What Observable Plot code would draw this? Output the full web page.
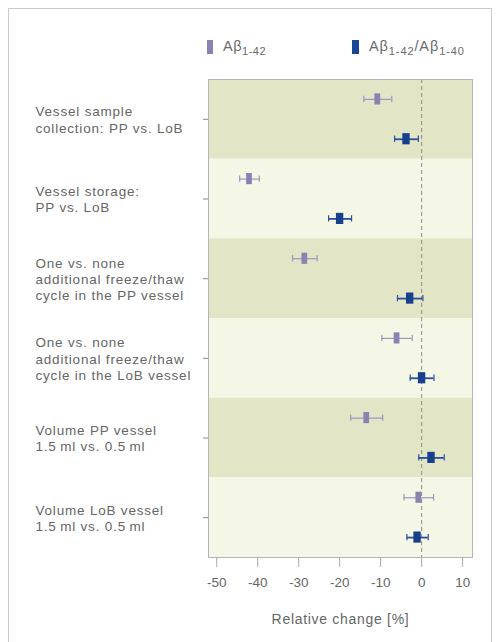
<!DOCTYPE html>
<html>
<head>
<meta charset="utf-8">
<script src="https://cdn.jsdelivr.net/npm/d3@7"></script>
<script src="https://cdn.jsdelivr.net/npm/@observablehq/plot@0.6"></script>
<style>
  body { margin: 0; background: #fff; font-family: "Liberation Sans", Arial, sans-serif; }
  #frame { position: absolute; left: 8px; top: 8px; width: 482px; height: 660px; border: 1px solid #c9c9c9; border-bottom: none; pointer-events: none; }
  #legend { position: relative; height: 64px; width: 496px; color: #6a6a6a; font-size: 14.5px; letter-spacing: 0.5px; }
  .item { position: absolute; top: 38px; display: flex; align-items: flex-end; }
  .sw { display: inline-block; width: 6px; height: 14px; margin-right: 10px; }
  sub { font-size: 11px; vertical-align: -4px; line-height: 0; }
  #chart svg { display: block; }
  #chart g.cat-labels text { letter-spacing: 0.8px; }
  #chart g[aria-label="x-axis label"] text { letter-spacing: 0.7px; }
</style>
</head>
<body>
<div id="frame"></div>
<div id="legend">
  <div class="item" style="left:207px"><span class="sw" style="background:#8a83b2"></span><span>Aβ<sub>1-42</sub></span></div>
  <div class="item" style="left:352px"><span class="sw" style="background:#1a4696;width:7px"></span><span style="letter-spacing:0.9px">Aβ<sub>1-42</sub>/Aβ<sub>1-40</sub></span></div>
</div>
<div id="chart"></div>
<script>
const categories = [
  "Vessel sample\ncollection: PP vs. LoB",
  "Vessel storage:\nPP vs. LoB",
  "One vs. none\nadditional freeze/thaw\ncycle in the PP vessel",
  "One vs. none\nadditional freeze/thaw\ncycle in the LoB vessel",
  "Volume PP vessel\n1.5\u202Fml vs. 0.5\u202Fml",
  "Volume LoB vessel\n1.5\u202Fml vs. 0.5\u202Fml"
];
const abeta42 = [-10.7, -42.0, -28.5, -6.0, -13.4, -0.7];
const abeta42Err = [3.4, 2.4, 3.0, 3.7, 3.9, 3.6];
const ratio = [-3.7, -19.9, -2.8, 0.1, 2.4, -1.0];
const ratioErr = [2.9, 2.8, 3.1, 2.9, 3.1, 2.6];
const xTicks = [-50, -40, -30, -20, -10, 0, 10];
const xDomain = [-52, 12.4];

const bands = categories.map((c, i) => ({i, label: c, shade: i % 2 === 0}));
const pts = [];
categories.forEach((c, i) => {
  pts.push({i, pos: i + 0.25, v: abeta42[i], e: abeta42Err[i], s: "a"});
  pts.push({i, pos: i + 0.75, v: ratio[i], e: ratioErr[i], s: "r"});
});
const col = {a: "#8a83b2", r: "#173f8c"};
const wcol = {a: "#9d97c0", r: "#2b4f9e"};

const chart = Plot.plot({
  width: 496,
  height: 571,
  marginTop: 15,
  marginBottom: 78,
  marginLeft: 208,
  marginRight: 24,
  style: {fontFamily: "'Liberation Sans', Arial, sans-serif", color: "#666", background: "transparent"},
  x: {domain: xDomain},
  y: {domain: [6, 0]},
  marks: [
    Plot.rect(bands, {x1: () => xDomain[0], x2: () => xDomain[1], y1: d => d.i, y2: d => d.i + 1,
      fill: d => d.shade ? "#e2e6c6" : "#f4f6e6"}),
    Plot.ruleX([0], {stroke: "#8a8a8a", strokeDasharray: "4,3", strokeWidth: 1}),
    Plot.frame({stroke: "#b5b5b5"}),
    Plot.axisX({ticks: xTicks, tickSize: 10, tickPadding: 10, fontSize: 13.5,
      tickFormat: d => d < 0 ? "-" + Math.abs(d) : String(d),
      stroke: "#aaa", label: null}),
    Plot.axisX({ticks: [], tickSize: 0, label: "Relative change [%]", labelAnchor: "center", labelArrow: "none",
      labelOffset: 66, fontSize: 14}),
    Plot.axisY({ticks: categories.map((c, i) => i + 0.5), tickSize: 5, tickFormat: () => "", stroke: "#888", label: null}),
    Plot.text(bands, {y: d => d.i + 0.5, text: "label", frameAnchor: "left", textAnchor: "start", dx: -173,
      fontSize: 13.5, lineHeight: 1.2, fill: "#666", className: "cat-labels"}),
    // error bars
    Plot.ruleY(pts, {y: "pos", x1: d => d.v - d.e, x2: d => d.v + d.e, stroke: d => wcol[d.s], strokeWidth: d => d.s === "r" ? 1.8 : 1.2}),
    Plot.ruleX(pts, {x: d => d.v - d.e, y1: d => d.pos - 0.04, y2: d => d.pos + 0.04, stroke: d => wcol[d.s], strokeWidth: 1.2}),
    Plot.ruleX(pts, {x: d => d.v + d.e, y1: d => d.pos - 0.04, y2: d => d.pos + 0.04, stroke: d => wcol[d.s], strokeWidth: 1.2}),
    Plot.rect(pts, {x1: d => d.v - (d.s === "r" ? 0.9 : 0.7), x2: d => d.v + (d.s === "r" ? 0.9 : 0.7),
      y1: d => d.pos - 0.07, y2: d => d.pos + 0.07, fill: d => col[d.s]})
  ]
});
document.getElementById("chart").append(chart);
</script>
</body>
</html>
